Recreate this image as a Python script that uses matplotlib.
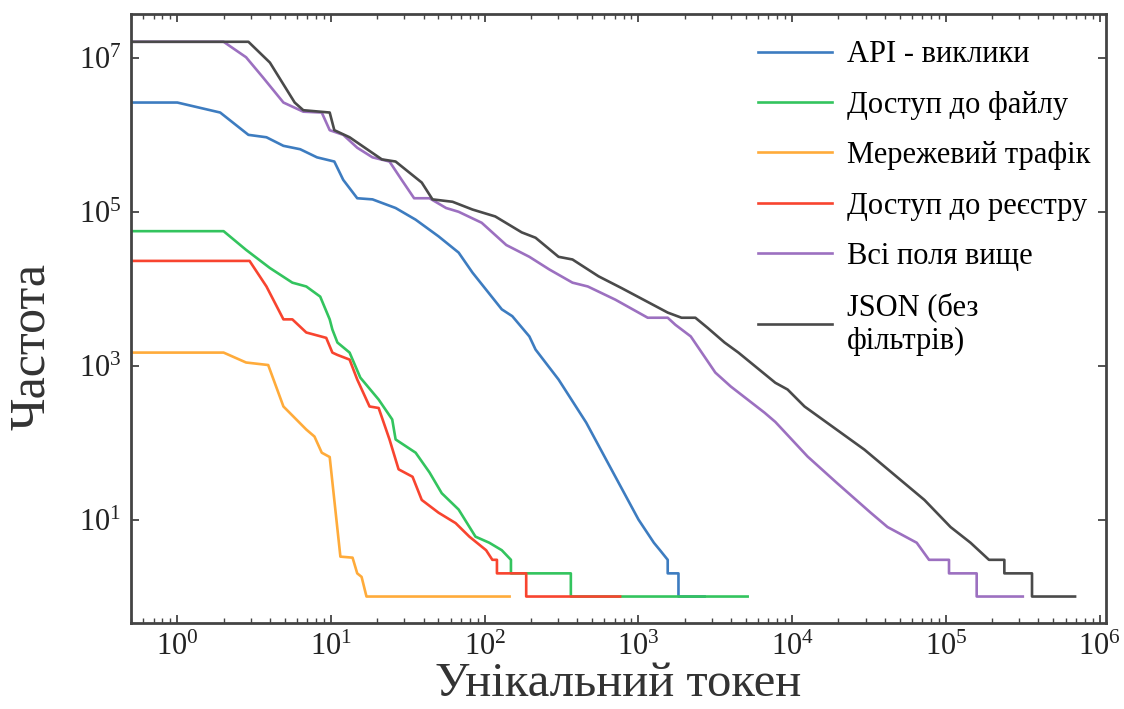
import matplotlib
matplotlib.use("Agg")
import matplotlib.pyplot as plt
from matplotlib.ticker import NullLocator, LogLocator

plt.rcParams["font.family"] = ["Liberation Serif", "DejaVu Serif"]
plt.rcParams["mathtext.fontset"] = "cm"

# rank / frequency readings for every source
api_x = [0.5, 1.0, 1.9, 2.9, 3.8, 4.9, 6.3, 8.1, 10.5, 12, 14.8, 18.6, 26.3, 35.5, 50, 67.6,
         83.2, 129, 151, 195, 214, 302, 457, 631, 1000, 1259, 1380, 1549, 1549, 1820, 1820, 2692]
api_y = [2.63e6, 2.63e6, 1.95e6, 1.0e6, 9.3e5, 7.2e5, 6.5e5, 5.1e5, 4.5e5, 2.6e5, 1.5e5, 1.45e5,
         1.12e5, 7.9e4, 4.8e4, 2.95e4, 1.62e4, 5.4e3, 4.4e3, 2.4e3, 1.62e3, 661, 182, 55, 10,
         5, 4, 3, 2, 2, 1, 1]

file_x = [0.5, 2.0, 2.8, 4.0, 5.6, 6.9, 8.5, 9.8, 10.2, 11, 11.5, 13.2, 15.5, 20.4, 25, 26.3,
          35.5, 43.7, 52.5, 67.6, 87, 107, 129, 148, 148, 363, 363, 5129]
file_y = [5.6e4, 5.6e4, 3.2e4, 1.86e4, 1.2e4, 1.07e4, 7.9e3, 4.0e3, 2.95e3, 2.0e3, 1.86e3,
          1.48e3, 700, 363, 200, 110, 74, 41, 22, 13.5, 6, 5, 4, 3, 2, 2, 1, 1]

net_x = [0.5, 2.0, 2.8, 3.9, 4.9, 6.9, 7.8, 8.7, 9.8, 11.5, 13.8, 14.8, 15.8, 17, 145]
net_y = [1.48e3, 1.48e3, 1.1e3, 1.02e3, 295, 148, 120, 74, 65, 3.3, 3.2, 2, 1.8, 1, 1]

reg_x = [0.5, 2.95, 3.8, 4.9, 5.6, 6.9, 9.3, 10.2, 11, 13.2, 14.8, 17.8, 20.4, 24, 27.5, 33.9,
         38.9, 50, 64.6, 79.4, 102, 112, 120, 120, 186, 186, 759]
reg_y = [2.3e4, 2.3e4, 1.07e4, 4.0e3, 4.0e3, 2.7e3, 2.3e3, 1.48e3, 1.38e3, 1.2e3, 661, 295,
         282, 110, 45, 36, 18, 12.3, 9, 6, 4, 3, 3, 2, 2, 1, 1]

all_x = [0.5, 2.0, 2.8, 3.6, 4.9, 6.6, 8.7, 9.8, 12, 14.8, 18.6, 24, 28.8, 34.7, 43.7, 56, 67.6,
         95.5, 138, 195, 263, 372, 468, 708, 1000, 1148, 1549, 1738, 2188, 3162, 3981, 6607,
         7762, 12589, 19498, 32359, 41687, 64565, 77625, 104713, 104713, 158489, 158489, 316228]
all_y = [1.62e7, 1.62e7, 1.02e7, 5.6e6, 2.63e6, 2.0e6, 1.95e6, 1.15e6, 1.0e6, 6.8e5, 5.1e5,
         4.5e5, 2.6e5, 1.5e5, 1.5e5, 1.12e5, 1.0e5, 7.2e4, 3.7e4, 2.6e4, 1.78e4, 1.2e4, 1.07e4,
         7.2e3, 4.9e3, 4.2e3, 4.2e3, 3.4e3, 2.4e3, 813, 537, 245, 186, 66, 30, 12.3, 8, 5, 3, 3,
         2, 2, 1, 1]

json_x = [0.5, 2.9, 4.0, 5.8, 6.6, 9.8, 10.5, 13.2, 21.4, 26.3, 38.9, 45.7, 61.7, 83.2, 117,
          174, 214, 302, 372, 550, 776, 1549, 1905, 2344, 2818, 3631, 4467, 7762, 9333, 12023,
          29512, 47863, 72444, 107152, 144544, 190546, 239883, 239883, 363078, 363078, 691831]
json_y = [1.62e7, 1.62e7, 8.7e6, 2.63e6, 2.09e6, 1.95e6, 1.15e6, 9.3e5, 4.8e5, 4.5e5, 2.4e5,
          1.45e5, 1.35e5, 1.07e5, 8.7e4, 5.4e4, 4.6e4, 2.6e4, 2.4e4, 1.45e4, 1.02e4, 4.9e3,
          4.2e3, 4.2e3, 3.1e3, 2.0e3, 1.48e3, 600, 490, 295, 81, 36, 18, 8, 5, 3, 3, 2, 2, 1, 1]

labels = ["API - виклики", "Доступ до файлу", "Мережевий трафік",
          "Доступ до реєстру", "Всі поля вище", "JSON (без\nфільтрів)"]
colors = ["#3d7cc0", "#33c45e", "#ffab3a", "#f8442f", "#9c70c0", "#4a4a4a"]
series = [(api_x, api_y), (file_x, file_y), (net_x, net_y),
          (reg_x, reg_y), (all_x, all_y), (json_x, json_y)]

x_ticks = [1e0, 1e1, 1e2, 1e3, 1e4, 1e5, 1e6]
y_ticks = [1e1, 1e3, 1e5, 1e7]

fig = plt.figure(figsize=(11.24, 7.09), dpi=100)
ax = fig.add_axes([0.1166, 0.121, 0.8674, 0.859])

for (xs, ys), lab, col in zip(series, labels, colors):
    ax.plot(xs, ys, color=col, lw=1.9, label=lab)

ax.set_xscale("log")
ax.set_yscale("log")
ax.set_xlim(0.5, 1.1e6)
ax.set_ylim(0.45, 3.7e7)

ax.set_xticks(x_ticks)
ax.xaxis.set_minor_locator(LogLocator(base=10, subs=range(2, 10), numticks=100))
ax.set_yticks(y_ticks)
ax.yaxis.set_minor_locator(NullLocator())

for sp in ax.spines.values():
    sp.set_color("#444444")
    sp.set_linewidth(2.0)
ax.tick_params(which="both", direction="in", top=True, right=True, color="#444444",
               labelsize=22, labelcolor="#222222")
ax.tick_params(which="major", length=6, width=1.3, pad=7)
ax.tick_params(which="minor", length=3.5, width=1.0)

ax.set_xlabel("Унікальний токен", fontsize=35, color="#333333", labelpad=0)
ax.set_ylabel("Частота", fontsize=36, color="#333333")
ax.yaxis.set_label_coords(-0.078, 0.455)

ax.legend(loc="upper left", frameon=False, fontsize=22, handlelength=2.4,
          labelspacing=0.7, handletextpad=0.5, borderaxespad=0.0,
          bbox_to_anchor=(0.631, 0.977))

fig.savefig("out.png", dpi=100)
